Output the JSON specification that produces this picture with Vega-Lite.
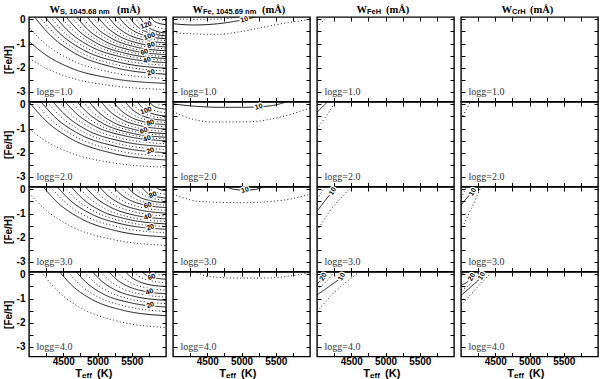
{
"$schema":"https://vega.github.io/schema/vega-lite/v6.json",
"background":"white",
"padding":{"left":2,"top":4,"right":2,"bottom":1},
"datasets":{
"lines":[
{"p":"11","lvl":5,"teff":4000,"feh":-1.6},{"p":"11","lvl":5,"teff":4240,"feh":-2.01},{"p":"11","lvl":5,"teff":4600,"feh":-2.41},{"p":"11","lvl":5,"teff":5200,"feh":-2.74},{"p":"11","lvl":5,"teff":6000,"feh":-2.9},
{"p":"11","lvl":10,"teff":4000,"feh":-0.91},{"p":"11","lvl":10,"teff":4240,"feh":-1.46},{"p":"11","lvl":10,"teff":4600,"feh":-2.0},{"p":"11","lvl":10,"teff":5200,"feh":-2.44},{"p":"11","lvl":10,"teff":6000,"feh":-2.65},
{"p":"11","lvl":15,"teff":4000,"feh":-0.35},{"p":"11","lvl":15,"teff":4240,"feh":-1.02},{"p":"11","lvl":15,"teff":4600,"feh":-1.66},{"p":"11","lvl":15,"teff":5200,"feh":-2.19},{"p":"11","lvl":15,"teff":6000,"feh":-2.45},
{"p":"11","lvl":20,"teff":4080,"feh":0.1},{"p":"11","lvl":20,"teff":4310,"feh":-0.65},{"p":"11","lvl":20,"teff":4656,"feh":-1.38},{"p":"11","lvl":20,"teff":5232,"feh":-1.98},{"p":"11","lvl":20,"teff":6000,"feh":-2.27},
{"p":"11","lvl":25,"teff":4157,"feh":0.1},{"p":"11","lvl":25,"teff":4378,"feh":-0.61},{"p":"11","lvl":25,"teff":4710,"feh":-1.3},{"p":"11","lvl":25,"teff":5263,"feh":-1.87},{"p":"11","lvl":25,"teff":6000,"feh":-2.14},
{"p":"11","lvl":30,"teff":4234,"feh":0.1},{"p":"11","lvl":30,"teff":4446,"feh":-0.57},{"p":"11","lvl":30,"teff":4764,"feh":-1.22},{"p":"11","lvl":30,"teff":5294,"feh":-1.76},{"p":"11","lvl":30,"teff":6000,"feh":-2.02},
{"p":"11","lvl":35,"teff":4311,"feh":0.1},{"p":"11","lvl":35,"teff":4514,"feh":-0.54},{"p":"11","lvl":35,"teff":4818,"feh":-1.15},{"p":"11","lvl":35,"teff":5324,"feh":-1.66},{"p":"11","lvl":35,"teff":6000,"feh":-1.9},
{"p":"11","lvl":40,"teff":4388,"feh":0.1},{"p":"11","lvl":40,"teff":4581,"feh":-0.5},{"p":"11","lvl":40,"teff":4872,"feh":-1.08},{"p":"11","lvl":40,"teff":5355,"feh":-1.56},{"p":"11","lvl":40,"teff":6000,"feh":-1.79},
{"p":"11","lvl":45,"teff":4465,"feh":0.1},{"p":"11","lvl":45,"teff":4649,"feh":-0.47},{"p":"11","lvl":45,"teff":4926,"feh":-1.02},{"p":"11","lvl":45,"teff":5386,"feh":-1.48},{"p":"11","lvl":45,"teff":6000,"feh":-1.7},
{"p":"11","lvl":50,"teff":4542,"feh":0.1},{"p":"11","lvl":50,"teff":4717,"feh":-0.45},{"p":"11","lvl":50,"teff":4979,"feh":-0.97},{"p":"11","lvl":50,"teff":5417,"feh":-1.41},{"p":"11","lvl":50,"teff":6000,"feh":-1.62},
{"p":"11","lvl":55,"teff":4619,"feh":0.1},{"p":"11","lvl":55,"teff":4785,"feh":-0.42},{"p":"11","lvl":55,"teff":5033,"feh":-0.92},{"p":"11","lvl":55,"teff":5448,"feh":-1.34},{"p":"11","lvl":55,"teff":6000,"feh":-1.54},
{"p":"11","lvl":60,"teff":4696,"feh":0.1},{"p":"11","lvl":60,"teff":4852,"feh":-0.4},{"p":"11","lvl":60,"teff":5087,"feh":-0.87},{"p":"11","lvl":60,"teff":5478,"feh":-1.27},{"p":"11","lvl":60,"teff":6000,"feh":-1.46},
{"p":"11","lvl":65,"teff":4773,"feh":0.1},{"p":"11","lvl":65,"teff":4920,"feh":-0.37},{"p":"11","lvl":65,"teff":5141,"feh":-0.82},{"p":"11","lvl":65,"teff":5509,"feh":-1.2},{"p":"11","lvl":65,"teff":6000,"feh":-1.38},
{"p":"11","lvl":70,"teff":4850,"feh":0.1},{"p":"11","lvl":70,"teff":4988,"feh":-0.35},{"p":"11","lvl":70,"teff":5195,"feh":-0.77},{"p":"11","lvl":70,"teff":5540,"feh":-1.13},{"p":"11","lvl":70,"teff":6000,"feh":-1.3},
{"p":"11","lvl":75,"teff":4927,"feh":0.1},{"p":"11","lvl":75,"teff":5056,"feh":-0.32},{"p":"11","lvl":75,"teff":5249,"feh":-0.72},{"p":"11","lvl":75,"teff":5571,"feh":-1.06},{"p":"11","lvl":75,"teff":6000,"feh":-1.22},
{"p":"11","lvl":80,"teff":5004,"feh":0.1},{"p":"11","lvl":80,"teff":5124,"feh":-0.29},{"p":"11","lvl":80,"teff":5303,"feh":-0.67},{"p":"11","lvl":80,"teff":5602,"feh":-0.99},{"p":"11","lvl":80,"teff":6000,"feh":-1.14},
{"p":"11","lvl":85,"teff":5081,"feh":0.1},{"p":"11","lvl":85,"teff":5191,"feh":-0.27},{"p":"11","lvl":85,"teff":5357,"feh":-0.62},{"p":"11","lvl":85,"teff":5632,"feh":-0.91},{"p":"11","lvl":85,"teff":6000,"feh":-1.05},
{"p":"11","lvl":90,"teff":5158,"feh":0.1},{"p":"11","lvl":90,"teff":5259,"feh":-0.24},{"p":"11","lvl":90,"teff":5411,"feh":-0.57},{"p":"11","lvl":90,"teff":5663,"feh":-0.84},{"p":"11","lvl":90,"teff":6000,"feh":-0.97},
{"p":"11","lvl":95,"teff":5235,"feh":0.1},{"p":"11","lvl":95,"teff":5327,"feh":-0.21},{"p":"11","lvl":95,"teff":5465,"feh":-0.51},{"p":"11","lvl":95,"teff":5694,"feh":-0.76},{"p":"11","lvl":95,"teff":6000,"feh":-0.88},
{"p":"11","lvl":100,"teff":5312,"feh":0.1},{"p":"11","lvl":100,"teff":5395,"feh":-0.19},{"p":"11","lvl":100,"teff":5518,"feh":-0.46},{"p":"11","lvl":100,"teff":5725,"feh":-0.69},{"p":"11","lvl":100,"teff":6000,"feh":-0.8},
{"p":"11","lvl":105,"teff":5389,"feh":0.1},{"p":"11","lvl":105,"teff":5462,"feh":-0.17},{"p":"11","lvl":105,"teff":5572,"feh":-0.42},{"p":"11","lvl":105,"teff":5756,"feh":-0.64},{"p":"11","lvl":105,"teff":6000,"feh":-0.74},
{"p":"11","lvl":110,"teff":5466,"feh":0.1},{"p":"11","lvl":110,"teff":5530,"feh":-0.15},{"p":"11","lvl":110,"teff":5626,"feh":-0.39},{"p":"11","lvl":110,"teff":5786,"feh":-0.58},{"p":"11","lvl":110,"teff":6000,"feh":-0.68},
{"p":"11","lvl":115,"teff":5543,"feh":0.1},{"p":"11","lvl":115,"teff":5598,"feh":-0.13},{"p":"11","lvl":115,"teff":5680,"feh":-0.35},{"p":"11","lvl":115,"teff":5817,"feh":-0.53},{"p":"11","lvl":115,"teff":6000,"feh":-0.62},
{"p":"11","lvl":120,"teff":5620,"feh":0.1},{"p":"11","lvl":120,"teff":5666,"feh":-0.11},{"p":"11","lvl":120,"teff":5734,"feh":-0.31},{"p":"11","lvl":120,"teff":5848,"feh":-0.48},{"p":"11","lvl":120,"teff":6000,"feh":-0.56},
{"p":"11","lvl":125,"teff":5697,"feh":0.1},{"p":"11","lvl":125,"teff":5788,"feh":-0.21},{"p":"11","lvl":125,"teff":6000,"feh":-0.4},
{"p":"11","lvl":130,"teff":5774,"feh":0.1},{"p":"11","lvl":130,"teff":5842,"feh":-0.1},{"p":"11","lvl":130,"teff":6000,"feh":-0.22},
{"p":"11","lvl":135,"teff":5850,"feh":0.1},{"p":"11","lvl":135,"teff":5895,"feh":0.01},{"p":"11","lvl":135,"teff":6000,"feh":-0.05},

{"p":"21","lvl":5,"teff":4000,"feh":-1.0},{"p":"21","lvl":5,"teff":4240,"feh":-1.51},{"p":"21","lvl":5,"teff":4600,"feh":-2.0},{"p":"21","lvl":5,"teff":5200,"feh":-2.41},{"p":"21","lvl":5,"teff":6000,"feh":-2.6},
{"p":"21","lvl":10,"teff":4000,"feh":0.1},{"p":"21","lvl":10,"teff":4240,"feh":-0.66},{"p":"21","lvl":10,"teff":4600,"feh":-1.4},{"p":"21","lvl":10,"teff":5200,"feh":-2.01},{"p":"21","lvl":10,"teff":6000,"feh":-2.3},
{"p":"21","lvl":15,"teff":4088,"feh":0.1},{"p":"21","lvl":15,"teff":4317,"feh":-0.62},{"p":"21","lvl":15,"teff":4662,"feh":-1.31},{"p":"21","lvl":15,"teff":5235,"feh":-1.88},{"p":"21","lvl":15,"teff":6000,"feh":-2.15},
{"p":"21","lvl":20,"teff":4176,"feh":0.1},{"p":"21","lvl":20,"teff":4395,"feh":-0.57},{"p":"21","lvl":20,"teff":4723,"feh":-1.21},{"p":"21","lvl":20,"teff":5270,"feh":-1.74},{"p":"21","lvl":20,"teff":6000,"feh":-2.0},
{"p":"21","lvl":25,"teff":4264,"feh":0.1},{"p":"21","lvl":25,"teff":4472,"feh":-0.53},{"p":"21","lvl":25,"teff":4785,"feh":-1.13},{"p":"21","lvl":25,"teff":5306,"feh":-1.63},{"p":"21","lvl":25,"teff":6000,"feh":-1.87},
{"p":"21","lvl":30,"teff":4352,"feh":0.1},{"p":"21","lvl":30,"teff":4550,"feh":-0.49},{"p":"21","lvl":30,"teff":4846,"feh":-1.06},{"p":"21","lvl":30,"teff":5341,"feh":-1.52},{"p":"21","lvl":30,"teff":6000,"feh":-1.75},
{"p":"21","lvl":35,"teff":4440,"feh":0.1},{"p":"21","lvl":35,"teff":4627,"feh":-0.45},{"p":"21","lvl":35,"teff":4908,"feh":-0.98},{"p":"21","lvl":35,"teff":5376,"feh":-1.42},{"p":"21","lvl":35,"teff":6000,"feh":-1.63},
{"p":"21","lvl":40,"teff":4528,"feh":0.1},{"p":"21","lvl":40,"teff":4705,"feh":-0.41},{"p":"21","lvl":40,"teff":4970,"feh":-0.91},{"p":"21","lvl":40,"teff":5411,"feh":-1.31},{"p":"21","lvl":40,"teff":6000,"feh":-1.51},
{"p":"21","lvl":45,"teff":4616,"feh":0.1},{"p":"21","lvl":45,"teff":4782,"feh":-0.39},{"p":"21","lvl":45,"teff":5031,"feh":-0.86},{"p":"21","lvl":45,"teff":5446,"feh":-1.24},{"p":"21","lvl":45,"teff":6000,"feh":-1.43},
{"p":"21","lvl":50,"teff":4704,"feh":0.1},{"p":"21","lvl":50,"teff":4860,"feh":-0.36},{"p":"21","lvl":50,"teff":5093,"feh":-0.81},{"p":"21","lvl":50,"teff":5482,"feh":-1.18},{"p":"21","lvl":50,"teff":6000,"feh":-1.36},
{"p":"21","lvl":55,"teff":4792,"feh":0.1},{"p":"21","lvl":55,"teff":4937,"feh":-0.34},{"p":"21","lvl":55,"teff":5154,"feh":-0.76},{"p":"21","lvl":55,"teff":5517,"feh":-1.11},{"p":"21","lvl":55,"teff":6000,"feh":-1.28},
{"p":"21","lvl":60,"teff":4880,"feh":0.1},{"p":"21","lvl":60,"teff":5014,"feh":-0.32},{"p":"21","lvl":60,"teff":5216,"feh":-0.72},{"p":"21","lvl":60,"teff":5552,"feh":-1.05},{"p":"21","lvl":60,"teff":6000,"feh":-1.21},
{"p":"21","lvl":65,"teff":4968,"feh":0.1},{"p":"21","lvl":65,"teff":5092,"feh":-0.29},{"p":"21","lvl":65,"teff":5278,"feh":-0.66},{"p":"21","lvl":65,"teff":5587,"feh":-0.97},{"p":"21","lvl":65,"teff":6000,"feh":-1.12},
{"p":"21","lvl":70,"teff":5056,"feh":0.1},{"p":"21","lvl":70,"teff":5169,"feh":-0.26},{"p":"21","lvl":70,"teff":5339,"feh":-0.6},{"p":"21","lvl":70,"teff":5622,"feh":-0.88},{"p":"21","lvl":70,"teff":6000,"feh":-1.02},
{"p":"21","lvl":75,"teff":5144,"feh":0.1},{"p":"21","lvl":75,"teff":5247,"feh":-0.23},{"p":"21","lvl":75,"teff":5401,"feh":-0.54},{"p":"21","lvl":75,"teff":5658,"feh":-0.8},{"p":"21","lvl":75,"teff":6000,"feh":-0.93},
{"p":"21","lvl":80,"teff":5232,"feh":0.1},{"p":"21","lvl":80,"teff":5324,"feh":-0.2},{"p":"21","lvl":80,"teff":5462,"feh":-0.49},{"p":"21","lvl":80,"teff":5693,"feh":-0.73},{"p":"21","lvl":80,"teff":6000,"feh":-0.84},
{"p":"21","lvl":85,"teff":5320,"feh":0.1},{"p":"21","lvl":85,"teff":5402,"feh":-0.17},{"p":"21","lvl":85,"teff":5524,"feh":-0.43},{"p":"21","lvl":85,"teff":5728,"feh":-0.65},{"p":"21","lvl":85,"teff":6000,"feh":-0.75},
{"p":"21","lvl":90,"teff":5408,"feh":0.1},{"p":"21","lvl":90,"teff":5479,"feh":-0.14},{"p":"21","lvl":90,"teff":5586,"feh":-0.37},{"p":"21","lvl":90,"teff":5763,"feh":-0.57},{"p":"21","lvl":90,"teff":6000,"feh":-0.66},
{"p":"21","lvl":95,"teff":5496,"feh":0.1},{"p":"21","lvl":95,"teff":5556,"feh":-0.11},{"p":"21","lvl":95,"teff":5647,"feh":-0.32},{"p":"21","lvl":95,"teff":5798,"feh":-0.49},{"p":"21","lvl":95,"teff":6000,"feh":-0.57},
{"p":"21","lvl":100,"teff":5584,"feh":0.1},{"p":"21","lvl":100,"teff":5634,"feh":-0.08},{"p":"21","lvl":100,"teff":5709,"feh":-0.26},{"p":"21","lvl":100,"teff":5834,"feh":-0.41},{"p":"21","lvl":100,"teff":6000,"feh":-0.48},
{"p":"21","lvl":105,"teff":5672,"feh":0.1},{"p":"21","lvl":105,"teff":5770,"feh":-0.18},{"p":"21","lvl":105,"teff":6000,"feh":-0.35},
{"p":"21","lvl":110,"teff":5760,"feh":0.1},{"p":"21","lvl":110,"teff":5832,"feh":-0.09},{"p":"21","lvl":110,"teff":6000,"feh":-0.2},
{"p":"21","lvl":115,"teff":5850,"feh":0.1},{"p":"21","lvl":115,"teff":5895,"feh":0.01},{"p":"21","lvl":115,"teff":6000,"feh":-0.05},

{"p":"31","lvl":5,"teff":4000,"feh":-0.15},{"p":"31","lvl":5,"teff":4240,"feh":-0.84},{"p":"31","lvl":5,"teff":4600,"feh":-1.51},{"p":"31","lvl":5,"teff":5200,"feh":-2.06},{"p":"31","lvl":5,"teff":6000,"feh":-2.32},
{"p":"31","lvl":10,"teff":4208,"feh":0.1},{"p":"31","lvl":10,"teff":4423,"feh":-0.56},{"p":"31","lvl":10,"teff":4746,"feh":-1.19},{"p":"31","lvl":10,"teff":5283,"feh":-1.72},{"p":"31","lvl":10,"teff":6000,"feh":-1.97},
{"p":"31","lvl":15,"teff":4311,"feh":0.1},{"p":"31","lvl":15,"teff":4514,"feh":-0.5},{"p":"31","lvl":15,"teff":4818,"feh":-1.09},{"p":"31","lvl":15,"teff":5324,"feh":-1.57},{"p":"31","lvl":15,"teff":6000,"feh":-1.8},
{"p":"31","lvl":20,"teff":4414,"feh":0.1},{"p":"31","lvl":20,"teff":4604,"feh":-0.46},{"p":"31","lvl":20,"teff":4890,"feh":-0.99},{"p":"31","lvl":20,"teff":5366,"feh":-1.44},{"p":"31","lvl":20,"teff":6000,"feh":-1.65},
{"p":"31","lvl":25,"teff":4516,"feh":0.1},{"p":"31","lvl":25,"teff":4694,"feh":-0.42},{"p":"31","lvl":25,"teff":4961,"feh":-0.92},{"p":"31","lvl":25,"teff":5406,"feh":-1.34},{"p":"31","lvl":25,"teff":6000,"feh":-1.54},
{"p":"31","lvl":30,"teff":4619,"feh":0.1},{"p":"31","lvl":30,"teff":4785,"feh":-0.39},{"p":"31","lvl":30,"teff":5033,"feh":-0.86},{"p":"31","lvl":30,"teff":5448,"feh":-1.24},{"p":"31","lvl":30,"teff":6000,"feh":-1.43},
{"p":"31","lvl":35,"teff":4721,"feh":0.1},{"p":"31","lvl":35,"teff":4874,"feh":-0.35},{"p":"31","lvl":35,"teff":5105,"feh":-0.79},{"p":"31","lvl":35,"teff":5488,"feh":-1.16},{"p":"31","lvl":35,"teff":6000,"feh":-1.33},
{"p":"31","lvl":40,"teff":4824,"feh":0.1},{"p":"31","lvl":40,"teff":4965,"feh":-0.32},{"p":"31","lvl":40,"teff":5177,"feh":-0.72},{"p":"31","lvl":40,"teff":5530,"feh":-1.06},{"p":"31","lvl":40,"teff":6000,"feh":-1.22},
{"p":"31","lvl":45,"teff":4926,"feh":0.1},{"p":"31","lvl":45,"teff":5055,"feh":-0.28},{"p":"31","lvl":45,"teff":5248,"feh":-0.65},{"p":"31","lvl":45,"teff":5570,"feh":-0.95},{"p":"31","lvl":45,"teff":6000,"feh":-1.1},
{"p":"31","lvl":50,"teff":5029,"feh":0.1},{"p":"31","lvl":50,"teff":5146,"feh":-0.24},{"p":"31","lvl":50,"teff":5320,"feh":-0.57},{"p":"31","lvl":50,"teff":5612,"feh":-0.85},{"p":"31","lvl":50,"teff":6000,"feh":-0.98},
{"p":"31","lvl":55,"teff":5132,"feh":0.1},{"p":"31","lvl":55,"teff":5236,"feh":-0.21},{"p":"31","lvl":55,"teff":5392,"feh":-0.51},{"p":"31","lvl":55,"teff":5653,"feh":-0.75},{"p":"31","lvl":55,"teff":6000,"feh":-0.87},
{"p":"31","lvl":60,"teff":5234,"feh":0.1},{"p":"31","lvl":60,"teff":5326,"feh":-0.17},{"p":"31","lvl":60,"teff":5464,"feh":-0.43},{"p":"31","lvl":60,"teff":5694,"feh":-0.65},{"p":"31","lvl":60,"teff":6000,"feh":-0.75},
{"p":"31","lvl":65,"teff":5337,"feh":0.1},{"p":"31","lvl":65,"teff":5417,"feh":-0.14},{"p":"31","lvl":65,"teff":5536,"feh":-0.37},{"p":"31","lvl":65,"teff":5735,"feh":-0.56},{"p":"31","lvl":65,"teff":6000,"feh":-0.65},
{"p":"31","lvl":70,"teff":5440,"feh":0.1},{"p":"31","lvl":70,"teff":5507,"feh":-0.11},{"p":"31","lvl":70,"teff":5608,"feh":-0.31},{"p":"31","lvl":70,"teff":5776,"feh":-0.47},{"p":"31","lvl":70,"teff":6000,"feh":-0.55},
{"p":"31","lvl":75,"teff":5542,"feh":0.1},{"p":"31","lvl":75,"teff":5597,"feh":-0.07},{"p":"31","lvl":75,"teff":5679,"feh":-0.24},{"p":"31","lvl":75,"teff":5817,"feh":-0.38},{"p":"31","lvl":75,"teff":6000,"feh":-0.45},
{"p":"31","lvl":80,"teff":5645,"feh":0.1},{"p":"31","lvl":80,"teff":5752,"feh":-0.19},{"p":"31","lvl":80,"teff":6000,"feh":-0.36},
{"p":"31","lvl":85,"teff":5747,"feh":0.1},{"p":"31","lvl":85,"teff":5823,"feh":-0.09},{"p":"31","lvl":85,"teff":6000,"feh":-0.2},
{"p":"31","lvl":90,"teff":5850,"feh":0.1},{"p":"31","lvl":90,"teff":5895,"feh":0.01},{"p":"31","lvl":90,"teff":6000,"feh":-0.05},

{"p":"41","lvl":5,"teff":4180,"feh":0.1},{"p":"41","lvl":5,"teff":4398,"feh":-0.63},{"p":"41","lvl":5,"teff":4726,"feh":-1.34},{"p":"41","lvl":5,"teff":5272,"feh":-1.92},{"p":"41","lvl":5,"teff":6000,"feh":-2.2},
{"p":"41","lvl":10,"teff":4450,"feh":0.1},{"p":"41","lvl":10,"teff":4636,"feh":-0.48},{"p":"41","lvl":10,"teff":4915,"feh":-1.03},{"p":"41","lvl":10,"teff":5380,"feh":-1.49},{"p":"41","lvl":10,"teff":6000,"feh":-1.71},
{"p":"41","lvl":15,"teff":4570,"feh":0.1},{"p":"41","lvl":15,"teff":4742,"feh":-0.42},{"p":"41","lvl":15,"teff":4999,"feh":-0.92},{"p":"41","lvl":15,"teff":5428,"feh":-1.33},{"p":"41","lvl":15,"teff":6000,"feh":-1.53},
{"p":"41","lvl":20,"teff":4690,"feh":0.1},{"p":"41","lvl":20,"teff":4847,"feh":-0.36},{"p":"41","lvl":20,"teff":5083,"feh":-0.81},{"p":"41","lvl":20,"teff":5476,"feh":-1.17},{"p":"41","lvl":20,"teff":6000,"feh":-1.35},
{"p":"41","lvl":25,"teff":4810,"feh":0.1},{"p":"41","lvl":25,"teff":4953,"feh":-0.32},{"p":"41","lvl":25,"teff":5167,"feh":-0.72},{"p":"41","lvl":25,"teff":5524,"feh":-1.05},{"p":"41","lvl":25,"teff":6000,"feh":-1.21},
{"p":"41","lvl":30,"teff":4930,"feh":0.1},{"p":"41","lvl":30,"teff":5058,"feh":-0.27},{"p":"41","lvl":30,"teff":5251,"feh":-0.63},{"p":"41","lvl":30,"teff":5572,"feh":-0.93},{"p":"41","lvl":30,"teff":6000,"feh":-1.07},
{"p":"41","lvl":35,"teff":5050,"feh":0.1},{"p":"41","lvl":35,"teff":5164,"feh":-0.23},{"p":"41","lvl":35,"teff":5335,"feh":-0.55},{"p":"41","lvl":35,"teff":5620,"feh":-0.81},{"p":"41","lvl":35,"teff":6000,"feh":-0.94},
{"p":"41","lvl":40,"teff":5170,"feh":0.1},{"p":"41","lvl":40,"teff":5270,"feh":-0.19},{"p":"41","lvl":40,"teff":5419,"feh":-0.46},{"p":"41","lvl":40,"teff":5668,"feh":-0.69},{"p":"41","lvl":40,"teff":6000,"feh":-0.8},
{"p":"41","lvl":45,"teff":5290,"feh":0.1},{"p":"41","lvl":45,"teff":5375,"feh":-0.14},{"p":"41","lvl":45,"teff":5503,"feh":-0.37},{"p":"41","lvl":45,"teff":5716,"feh":-0.56},{"p":"41","lvl":45,"teff":6000,"feh":-0.65},
{"p":"41","lvl":50,"teff":5410,"feh":0.1},{"p":"41","lvl":50,"teff":5481,"feh":-0.09},{"p":"41","lvl":50,"teff":5587,"feh":-0.27},{"p":"41","lvl":50,"teff":5764,"feh":-0.43},{"p":"41","lvl":50,"teff":6000,"feh":-0.5},
{"p":"41","lvl":55,"teff":5530,"feh":0.1},{"p":"41","lvl":55,"teff":5671,"feh":-0.18},{"p":"41","lvl":55,"teff":6000,"feh":-0.35},
{"p":"41","lvl":60,"teff":5650,"feh":0.1},{"p":"41","lvl":60,"teff":5755,"feh":-0.09},{"p":"41","lvl":60,"teff":6000,"feh":-0.2},
{"p":"41","lvl":65,"teff":5800,"feh":0.1},{"p":"41","lvl":65,"teff":5860,"feh":0.01},{"p":"41","lvl":65,"teff":6000,"feh":-0.05},

{"p":"12","lvl":5,"teff":4000,"feh":-0.55},{"p":"12","lvl":5,"teff":4300,"feh":-0.6},{"p":"12","lvl":5,"teff":4650,"feh":-0.62},{"p":"12","lvl":5,"teff":5000,"feh":-0.5},{"p":"12","lvl":5,"teff":5500,"feh":-0.22},{"p":"12","lvl":5,"teff":6000,"feh":0.0},
{"p":"12","lvl":10,"teff":4000,"feh":-0.18},{"p":"12","lvl":10,"teff":4300,"feh":-0.23},{"p":"12","lvl":10,"teff":4650,"feh":-0.18},{"p":"12","lvl":10,"teff":4900,"feh":-0.08},{"p":"12","lvl":10,"teff":5100,"feh":0.02},{"p":"12","lvl":10,"teff":5200,"feh":0.1},
{"p":"12","lvl":15,"teff":4000,"feh":0.02},{"p":"12","lvl":15,"teff":4400,"feh":0.0},{"p":"12","lvl":15,"teff":4800,"feh":0.04},{"p":"12","lvl":15,"teff":4950,"feh":0.1},
{"p":"22","lvl":5,"teff":4000,"feh":-0.3},{"p":"22","lvl":5,"teff":4300,"feh":-0.62},{"p":"22","lvl":5,"teff":4600,"feh":-0.73},{"p":"22","lvl":5,"teff":5100,"feh":-0.72},{"p":"22","lvl":5,"teff":5600,"feh":-0.5},{"p":"22","lvl":5,"teff":6000,"feh":-0.15},
{"p":"22","lvl":10,"teff":4000,"feh":0.02},{"p":"22","lvl":10,"teff":4300,"feh":-0.07},{"p":"22","lvl":10,"teff":4700,"feh":-0.12},{"p":"22","lvl":10,"teff":5000,"feh":-0.12},{"p":"22","lvl":10,"teff":5250,"feh":-0.1},{"p":"22","lvl":10,"teff":5500,"feh":-0.02},{"p":"22","lvl":10,"teff":5650,"feh":0.1},
{"p":"32","lvl":5,"teff":4000,"feh":-0.2},{"p":"32","lvl":5,"teff":4400,"feh":-0.5},{"p":"32","lvl":5,"teff":5000,"feh":-0.55},{"p":"32","lvl":5,"teff":5600,"feh":-0.45},{"p":"32","lvl":5,"teff":6000,"feh":-0.2},
{"p":"32","lvl":10,"teff":4780,"feh":0.1},{"p":"32","lvl":10,"teff":4900,"feh":0.0},{"p":"32","lvl":10,"teff":5050,"feh":-0.03},{"p":"32","lvl":10,"teff":5200,"feh":0.0},{"p":"32","lvl":10,"teff":5320,"feh":0.1},
{"p":"42","lvl":5,"teff":4350,"feh":0.1},{"p":"42","lvl":5,"teff":4500,"feh":-0.08},{"p":"42","lvl":5,"teff":4900,"feh":-0.15},{"p":"42","lvl":5,"teff":5350,"feh":-0.15},{"p":"42","lvl":5,"teff":5750,"feh":-0.05},{"p":"42","lvl":5,"teff":6000,"feh":0.07},

{"p":"13","lvl":5,"teff":4000,"feh":-0.3},{"p":"13","lvl":5,"teff":4080,"feh":-0.08},{"p":"13","lvl":5,"teff":4140,"feh":0.1},
{"p":"23","lvl":10,"teff":4000,"feh":-0.33},{"p":"23","lvl":10,"teff":4150,"feh":0.1},
{"p":"23","lvl":5,"teff":4000,"feh":-1.02},{"p":"23","lvl":5,"teff":4130,"feh":-0.5},{"p":"23","lvl":5,"teff":4270,"feh":0.1},
{"p":"33","lvl":15,"teff":4000,"feh":-0.4},{"p":"33","lvl":15,"teff":4120,"feh":0.1},
{"p":"33","lvl":10,"teff":4000,"feh":-0.9},{"p":"33","lvl":10,"teff":4150,"feh":-0.35},{"p":"33","lvl":10,"teff":4280,"feh":0.1},
{"p":"33","lvl":5,"teff":4000,"feh":-1.72},{"p":"33","lvl":5,"teff":4200,"feh":-0.85},{"p":"33","lvl":5,"teff":4400,"feh":-0.2},{"p":"33","lvl":5,"teff":4500,"feh":0.1},
{"p":"43","lvl":25,"teff":4000,"feh":-0.05},{"p":"43","lvl":25,"teff":4040,"feh":0.1},
{"p":"43","lvl":20,"teff":4000,"feh":-0.4},{"p":"43","lvl":20,"teff":4092,"feh":-0.1},{"p":"43","lvl":20,"teff":4130,"feh":0.1},
{"p":"43","lvl":15,"teff":4000,"feh":-0.62},{"p":"43","lvl":15,"teff":4150,"feh":-0.25},{"p":"43","lvl":15,"teff":4250,"feh":0.1},
{"p":"43","lvl":10,"teff":4000,"feh":-0.85},{"p":"43","lvl":10,"teff":4200,"feh":-0.45},{"p":"43","lvl":10,"teff":4360,"feh":-0.1},{"p":"43","lvl":10,"teff":4420,"feh":0.1},
{"p":"43","lvl":5,"teff":4000,"feh":-1.55},{"p":"43","lvl":5,"teff":4250,"feh":-0.75},{"p":"43","lvl":5,"teff":4500,"feh":-0.15},{"p":"43","lvl":5,"teff":4620,"feh":0.1},

{"p":"24","lvl":5,"teff":4000,"feh":-0.6},{"p":"24","lvl":5,"teff":4140,"feh":0.1},
{"p":"34","lvl":15,"teff":4000,"feh":-0.35},{"p":"34","lvl":15,"teff":4080,"feh":0.1},
{"p":"34","lvl":10,"teff":4000,"feh":-0.65},{"p":"34","lvl":10,"teff":4120,"feh":-0.25},{"p":"34","lvl":10,"teff":4171,"feh":-0.11},{"p":"34","lvl":10,"teff":4210,"feh":0.1},
{"p":"34","lvl":5,"teff":4000,"feh":-1.68},{"p":"34","lvl":5,"teff":4150,"feh":-0.8},{"p":"34","lvl":5,"teff":4290,"feh":0.1},
{"p":"44","lvl":25,"teff":4000,"feh":-0.1},{"p":"44","lvl":25,"teff":4040,"feh":0.1},
{"p":"44","lvl":20,"teff":4000,"feh":-0.45},{"p":"44","lvl":20,"teff":4156,"feh":-0.11},{"p":"44","lvl":20,"teff":4200,"feh":0.1},
{"p":"44","lvl":15,"teff":4000,"feh":-0.65},{"p":"44","lvl":15,"teff":4150,"feh":-0.35},{"p":"44","lvl":15,"teff":4260,"feh":0.1},
{"p":"44","lvl":10,"teff":4000,"feh":-0.87},{"p":"44","lvl":10,"teff":4150,"feh":-0.5},{"p":"44","lvl":10,"teff":4302,"feh":-0.07},{"p":"44","lvl":10,"teff":4340,"feh":0.1},
{"p":"44","lvl":5,"teff":4000,"feh":-1.3},{"p":"44","lvl":5,"teff":4200,"feh":-0.65},{"p":"44","lvl":5,"teff":4400,"feh":-0.05},{"p":"44","lvl":5,"teff":4450,"feh":0.1}
],
"labels":[
{"p":"11","lvl":20,"teff":5782,"feh":-2.2},{"p":"11","lvl":40,"teff":5724,"feh":-1.69},{"p":"11","lvl":60,"teff":5685,"feh":-1.35},{"p":"11","lvl":80,"teff":5782,"feh":-1.06},{"p":"11","lvl":100,"teff":5758,"feh":-0.7},{"p":"11","lvl":120,"teff":5709,"feh":-0.24},
{"p":"21","lvl":20,"teff":5772,"feh":-1.92},{"p":"21","lvl":40,"teff":5724,"feh":-1.42},{"p":"21","lvl":60,"teff":5675,"feh":-1.09},{"p":"21","lvl":80,"teff":5772,"feh":-0.76},{"p":"21","lvl":100,"teff":5709,"feh":-0.26},
{"p":"31","lvl":20,"teff":5772,"feh":-1.57},{"p":"31","lvl":40,"teff":5734,"feh":-1.13},{"p":"31","lvl":60,"teff":5734,"feh":-0.66},{"p":"31","lvl":80,"teff":5806,"feh":-0.23},
{"p":"41","lvl":20,"teff":5772,"feh":-1.27},{"p":"41","lvl":40,"teff":5760,"feh":-0.72},{"p":"41","lvl":60,"teff":5790,"feh":-0.11},
{"p":"12","lvl":10,"teff":5040,"feh":-0.01},
{"p":"22","lvl":10,"teff":5250,"feh":-0.1},
{"p":"32","lvl":10,"teff":5050,"feh":-0.03},
{"p":"33","lvl":10,"teff":4230,"feh":-0.08},
{"p":"43","lvl":20,"teff":4092,"feh":-0.1},{"p":"43","lvl":10,"teff":4360,"feh":-0.1},
{"p":"34","lvl":10,"teff":4171,"feh":-0.11},
{"p":"44","lvl":20,"teff":4156,"feh":-0.11},{"p":"44","lvl":10,"teff":4302,"feh":-0.07}
]
},
"columns":4,
"spacing":{"row":0,"column":7},
"align":"each",
"bounds":"flush",
"concat":[
{"width":137,"height":84.5,"resolve":{"axis":{"x":"independent","y":"independent"}},"layer":[
 {"data":{"name":"lines"},"transform":[{"filter":"datum.p=='11'"}],"mark":{"type":"line","clip":true},"encoding":{"x":{"field":"teff","type":"quantitative","scale":{"domain":[4000,6000],"nice":false},"axis":{"orient":"bottom","values":[4250,4500,4750,5000,5250,5500,5750],"labels":false,"title":null}},"y":{"field":"feh","type":"quantitative","scale":{"domain":[-3.4,0.1],"nice":false},"axis":{"orient":"left","values":[-3,-2.5,-2,-1.5,-1,-0.5,0],"labelExpr":"datum.value % 1 == 0 ? '' + datum.value : ''","labelPadding":8,"title":"[Fe/H]","titlePadding":3}},"detail":{"field":"lvl","type":"nominal"},"strokeDash":{"condition":{"test":"datum.lvl % 10 == 0","value":[1,0]},"value":[1,2.4]}}},
 {"data":{"name":"labels"},"transform":[{"filter":"datum.p=='11'"}],"mark":{"type":"text","style":"lab","color":"white","stroke":"white","strokeWidth":2.5,"angle":340},"encoding":{"x":{"field":"teff","type":"quantitative","scale":{"domain":[4000,6000],"nice":false},"axis":null},"y":{"field":"feh","type":"quantitative","scale":{"domain":[-3.4,0.1],"nice":false},"axis":null},"text":{"field":"lvl"}}},
 {"data":{"name":"labels"},"transform":[{"filter":"datum.p=='11'"}],"mark":{"type":"text","style":"lab","color":"black","angle":340},"encoding":{"x":{"field":"teff","type":"quantitative","scale":{"domain":[4000,6000],"nice":false},"axis":null},"y":{"field":"feh","type":"quantitative","scale":{"domain":[-3.4,0.1],"nice":false},"axis":null},"text":{"field":"lvl"}}},
 {"data":{"values":[{}]},"mark":{"type":"text","style":"logg","color":"#333","text":"logg=1.0"},"encoding":{"x":{"datum":4110,"type":"quantitative","scale":{"domain":[4000,6000],"nice":false},"axis":{"orient":"top","values":[4250,4500,4750,5000,5250,5500,5750],"labels":false,"title":null}},"y":{"datum":-3.12,"type":"quantitative","scale":{"domain":[-3.4,0.1],"nice":false},"axis":{"orient":"right","values":[-3,-2.5,-2,-1.5,-1,-0.5,0],"labels":false,"title":null}}}},
 {"data":{"values":[{}]},"mark":{"type":"text","style":"big","align":"right","text":"W"},"encoding":{"x":{"datum":4453,"type":"quantitative","scale":{"domain":[4000,6000],"nice":false},"axis":null},"y":{"datum":0.267,"type":"quantitative","scale":{"domain":[-3.4,0.1],"nice":false},"axis":null}}},
 {"data":{"values":[{}]},"mark":{"type":"text","style":"sub","align":"left","text":"S, 1045.68 nm"},"encoding":{"x":{"datum":4453,"type":"quantitative","scale":{"domain":[4000,6000],"nice":false},"axis":null},"y":{"datum":0.225,"type":"quantitative","scale":{"domain":[-3.4,0.1],"nice":false},"axis":null}}},
 {"data":{"values":[{}]},"mark":{"type":"text","style":"big","align":"left","text":"(mÅ)"},"encoding":{"x":{"datum":5285,"type":"quantitative","scale":{"domain":[4000,6000],"nice":false},"axis":null},"y":{"datum":0.267,"type":"quantitative","scale":{"domain":[-3.4,0.1],"nice":false},"axis":null}}}
]},
{"width":137,"height":84.5,"resolve":{"axis":{"x":"independent","y":"independent"}},"layer":[
 {"data":{"name":"lines"},"transform":[{"filter":"datum.p=='12'"}],"mark":{"type":"line","clip":true},"encoding":{"x":{"field":"teff","type":"quantitative","scale":{"domain":[4000,6000],"nice":false},"axis":{"orient":"bottom","values":[4250,4500,4750,5000,5250,5500,5750],"labels":false,"title":null}},"y":{"field":"feh","type":"quantitative","scale":{"domain":[-3.4,0.1],"nice":false},"axis":{"orient":"left","values":[-3,-2.5,-2,-1.5,-1,-0.5,0],"labels":false,"title":null}},"detail":{"field":"lvl","type":"nominal"},"strokeDash":{"condition":{"test":"datum.lvl % 10 == 0","value":[1,0]},"value":[1,2.4]}}},
 {"data":{"name":"labels"},"transform":[{"filter":"datum.p=='12'"}],"mark":{"type":"text","style":"lab","color":"white","stroke":"white","strokeWidth":2.5,"angle":345},"encoding":{"x":{"field":"teff","type":"quantitative","scale":{"domain":[4000,6000],"nice":false},"axis":null},"y":{"field":"feh","type":"quantitative","scale":{"domain":[-3.4,0.1],"nice":false},"axis":null},"text":{"field":"lvl"}}},
 {"data":{"name":"labels"},"transform":[{"filter":"datum.p=='12'"}],"mark":{"type":"text","style":"lab","color":"black","angle":345},"encoding":{"x":{"field":"teff","type":"quantitative","scale":{"domain":[4000,6000],"nice":false},"axis":null},"y":{"field":"feh","type":"quantitative","scale":{"domain":[-3.4,0.1],"nice":false},"axis":null},"text":{"field":"lvl"}}},
 {"data":{"values":[{}]},"mark":{"type":"text","style":"logg","color":"#333","text":"logg=1.0"},"encoding":{"x":{"datum":4110,"type":"quantitative","scale":{"domain":[4000,6000],"nice":false},"axis":{"orient":"top","values":[4250,4500,4750,5000,5250,5500,5750],"labels":false,"title":null}},"y":{"datum":-3.12,"type":"quantitative","scale":{"domain":[-3.4,0.1],"nice":false},"axis":{"orient":"right","values":[-3,-2.5,-2,-1.5,-1,-0.5,0],"labels":false,"title":null}}}},
 {"data":{"values":[{}]},"mark":{"type":"text","style":"big","align":"right","text":"W"},"encoding":{"x":{"datum":4438,"type":"quantitative","scale":{"domain":[4000,6000],"nice":false},"axis":null},"y":{"datum":0.267,"type":"quantitative","scale":{"domain":[-3.4,0.1],"nice":false},"axis":null}}},
 {"data":{"values":[{}]},"mark":{"type":"text","style":"sub","align":"left","text":"Fe, 1045.69 nm"},"encoding":{"x":{"datum":4438,"type":"quantitative","scale":{"domain":[4000,6000],"nice":false},"axis":null},"y":{"datum":0.225,"type":"quantitative","scale":{"domain":[-3.4,0.1],"nice":false},"axis":null}}},
 {"data":{"values":[{}]},"mark":{"type":"text","style":"big","align":"left","text":"(mÅ)"},"encoding":{"x":{"datum":5299,"type":"quantitative","scale":{"domain":[4000,6000],"nice":false},"axis":null},"y":{"datum":0.267,"type":"quantitative","scale":{"domain":[-3.4,0.1],"nice":false},"axis":null}}}
]},
{"width":137,"height":84.5,"resolve":{"axis":{"x":"independent","y":"independent"}},"layer":[
 {"data":{"name":"lines"},"transform":[{"filter":"datum.p=='13'"}],"mark":{"type":"line","clip":true},"encoding":{"x":{"field":"teff","type":"quantitative","scale":{"domain":[4000,6000],"nice":false},"axis":{"orient":"bottom","values":[4250,4500,4750,5000,5250,5500,5750],"labels":false,"title":null}},"y":{"field":"feh","type":"quantitative","scale":{"domain":[-3.4,0.1],"nice":false},"axis":{"orient":"left","values":[-3,-2.5,-2,-1.5,-1,-0.5,0],"labels":false,"title":null}},"detail":{"field":"lvl","type":"nominal"},"strokeDash":{"condition":{"test":"datum.lvl % 10 == 0","value":[1,0]},"value":[1,2.4]}}},
 {"data":{"values":[{}]},"mark":{"type":"text","style":"logg","color":"#333","text":"logg=1.0"},"encoding":{"x":{"datum":4110,"type":"quantitative","scale":{"domain":[4000,6000],"nice":false},"axis":{"orient":"top","values":[4250,4500,4750,5000,5250,5500,5750],"labels":false,"title":null}},"y":{"datum":-3.12,"type":"quantitative","scale":{"domain":[-3.4,0.1],"nice":false},"axis":{"orient":"right","values":[-3,-2.5,-2,-1.5,-1,-0.5,0],"labels":false,"title":null}}}},
 {"data":{"values":[{}]},"mark":{"type":"text","style":"big","align":"right","text":"W"},"encoding":{"x":{"datum":4730,"type":"quantitative","scale":{"domain":[4000,6000],"nice":false},"axis":null},"y":{"datum":0.267,"type":"quantitative","scale":{"domain":[-3.4,0.1],"nice":false},"axis":null}}},
 {"data":{"values":[{}]},"mark":{"type":"text","style":"sub","align":"left","text":"FeH"},"encoding":{"x":{"datum":4730,"type":"quantitative","scale":{"domain":[4000,6000],"nice":false},"axis":null},"y":{"datum":0.225,"type":"quantitative","scale":{"domain":[-3.4,0.1],"nice":false},"axis":null}}},
 {"data":{"values":[{}]},"mark":{"type":"text","style":"big","align":"left","text":"(mÅ)"},"encoding":{"x":{"datum":5007,"type":"quantitative","scale":{"domain":[4000,6000],"nice":false},"axis":null},"y":{"datum":0.267,"type":"quantitative","scale":{"domain":[-3.4,0.1],"nice":false},"axis":null}}}
]},
{"width":137,"height":84.5,"resolve":{"axis":{"x":"independent","y":"independent"}},"layer":[
 {"data":{"name":"lines"},"transform":[{"filter":"datum.p=='14'"}],"mark":{"type":"line","clip":true},"encoding":{"x":{"field":"teff","type":"quantitative","scale":{"domain":[4000,6000],"nice":false},"axis":{"orient":"bottom","values":[4250,4500,4750,5000,5250,5500,5750],"labels":false,"title":null}},"y":{"field":"feh","type":"quantitative","scale":{"domain":[-3.4,0.1],"nice":false},"axis":{"orient":"left","values":[-3,-2.5,-2,-1.5,-1,-0.5,0],"labels":false,"title":null}},"detail":{"field":"lvl","type":"nominal"},"strokeDash":{"condition":{"test":"datum.lvl % 10 == 0","value":[1,0]},"value":[1,2.4]}}},
 {"data":{"values":[{}]},"mark":{"type":"text","style":"logg","color":"#333","text":"logg=1.0"},"encoding":{"x":{"datum":4110,"type":"quantitative","scale":{"domain":[4000,6000],"nice":false},"axis":{"orient":"top","values":[4250,4500,4750,5000,5250,5500,5750],"labels":false,"title":null}},"y":{"datum":-3.12,"type":"quantitative","scale":{"domain":[-3.4,0.1],"nice":false},"axis":{"orient":"right","values":[-3,-2.5,-2,-1.5,-1,-0.5,0],"labels":false,"title":null}}}},
 {"data":{"values":[{}]},"mark":{"type":"text","style":"big","align":"right","text":"W"},"encoding":{"x":{"datum":4745,"type":"quantitative","scale":{"domain":[4000,6000],"nice":false},"axis":null},"y":{"datum":0.267,"type":"quantitative","scale":{"domain":[-3.4,0.1],"nice":false},"axis":null}}},
 {"data":{"values":[{}]},"mark":{"type":"text","style":"sub","align":"left","text":"CrH"},"encoding":{"x":{"datum":4745,"type":"quantitative","scale":{"domain":[4000,6000],"nice":false},"axis":null},"y":{"datum":0.225,"type":"quantitative","scale":{"domain":[-3.4,0.1],"nice":false},"axis":null}}},
 {"data":{"values":[{}]},"mark":{"type":"text","style":"big","align":"left","text":"(mÅ)"},"encoding":{"x":{"datum":5007,"type":"quantitative","scale":{"domain":[4000,6000],"nice":false},"axis":null},"y":{"datum":0.267,"type":"quantitative","scale":{"domain":[-3.4,0.1],"nice":false},"axis":null}}}
]},

{"width":137,"height":84.5,"resolve":{"axis":{"x":"independent","y":"independent"}},"layer":[
 {"data":{"name":"lines"},"transform":[{"filter":"datum.p=='21'"}],"mark":{"type":"line","clip":true},"encoding":{"x":{"field":"teff","type":"quantitative","scale":{"domain":[4000,6000],"nice":false},"axis":{"orient":"bottom","values":[4250,4500,4750,5000,5250,5500,5750],"labels":false,"title":null}},"y":{"field":"feh","type":"quantitative","scale":{"domain":[-3.4,0.1],"nice":false},"axis":{"orient":"left","values":[-3,-2.5,-2,-1.5,-1,-0.5,0],"labelExpr":"datum.value % 1 == 0 ? '' + datum.value : ''","labelPadding":8,"title":"[Fe/H]","titlePadding":3}},"detail":{"field":"lvl","type":"nominal"},"strokeDash":{"condition":{"test":"datum.lvl % 10 == 0","value":[1,0]},"value":[1,2.4]}}},
 {"data":{"name":"labels"},"transform":[{"filter":"datum.p=='21'"}],"mark":{"type":"text","style":"lab","color":"white","stroke":"white","strokeWidth":2.5,"angle":340},"encoding":{"x":{"field":"teff","type":"quantitative","scale":{"domain":[4000,6000],"nice":false},"axis":null},"y":{"field":"feh","type":"quantitative","scale":{"domain":[-3.4,0.1],"nice":false},"axis":null},"text":{"field":"lvl"}}},
 {"data":{"name":"labels"},"transform":[{"filter":"datum.p=='21'"}],"mark":{"type":"text","style":"lab","color":"black","angle":340},"encoding":{"x":{"field":"teff","type":"quantitative","scale":{"domain":[4000,6000],"nice":false},"axis":null},"y":{"field":"feh","type":"quantitative","scale":{"domain":[-3.4,0.1],"nice":false},"axis":null},"text":{"field":"lvl"}}},
 {"data":{"values":[{}]},"mark":{"type":"text","style":"logg","color":"#333","text":"logg=2.0"},"encoding":{"x":{"datum":4110,"type":"quantitative","scale":{"domain":[4000,6000],"nice":false},"axis":{"orient":"top","values":[4250,4500,4750,5000,5250,5500,5750],"labels":false,"title":null}},"y":{"datum":-3.12,"type":"quantitative","scale":{"domain":[-3.4,0.1],"nice":false},"axis":{"orient":"right","values":[-3,-2.5,-2,-1.5,-1,-0.5,0],"labels":false,"title":null}}}}
]},
{"width":137,"height":84.5,"resolve":{"axis":{"x":"independent","y":"independent"}},"layer":[
 {"data":{"name":"lines"},"transform":[{"filter":"datum.p=='22'"}],"mark":{"type":"line","clip":true},"encoding":{"x":{"field":"teff","type":"quantitative","scale":{"domain":[4000,6000],"nice":false},"axis":{"orient":"bottom","values":[4250,4500,4750,5000,5250,5500,5750],"labels":false,"title":null}},"y":{"field":"feh","type":"quantitative","scale":{"domain":[-3.4,0.1],"nice":false},"axis":{"orient":"left","values":[-3,-2.5,-2,-1.5,-1,-0.5,0],"labels":false,"title":null}},"detail":{"field":"lvl","type":"nominal"},"strokeDash":{"condition":{"test":"datum.lvl % 10 == 0","value":[1,0]},"value":[1,2.4]}}},
 {"data":{"name":"labels"},"transform":[{"filter":"datum.p=='22'"}],"mark":{"type":"text","style":"lab","color":"white","stroke":"white","strokeWidth":2.5,"angle":345},"encoding":{"x":{"field":"teff","type":"quantitative","scale":{"domain":[4000,6000],"nice":false},"axis":null},"y":{"field":"feh","type":"quantitative","scale":{"domain":[-3.4,0.1],"nice":false},"axis":null},"text":{"field":"lvl"}}},
 {"data":{"name":"labels"},"transform":[{"filter":"datum.p=='22'"}],"mark":{"type":"text","style":"lab","color":"black","angle":345},"encoding":{"x":{"field":"teff","type":"quantitative","scale":{"domain":[4000,6000],"nice":false},"axis":null},"y":{"field":"feh","type":"quantitative","scale":{"domain":[-3.4,0.1],"nice":false},"axis":null},"text":{"field":"lvl"}}},
 {"data":{"values":[{}]},"mark":{"type":"text","style":"logg","color":"#333","text":"logg=2.0"},"encoding":{"x":{"datum":4110,"type":"quantitative","scale":{"domain":[4000,6000],"nice":false},"axis":{"orient":"top","values":[4250,4500,4750,5000,5250,5500,5750],"labels":false,"title":null}},"y":{"datum":-3.12,"type":"quantitative","scale":{"domain":[-3.4,0.1],"nice":false},"axis":{"orient":"right","values":[-3,-2.5,-2,-1.5,-1,-0.5,0],"labels":false,"title":null}}}}
]},
{"width":137,"height":84.5,"resolve":{"axis":{"x":"independent","y":"independent"}},"layer":[
 {"data":{"name":"lines"},"transform":[{"filter":"datum.p=='23'"}],"mark":{"type":"line","clip":true},"encoding":{"x":{"field":"teff","type":"quantitative","scale":{"domain":[4000,6000],"nice":false},"axis":{"orient":"bottom","values":[4250,4500,4750,5000,5250,5500,5750],"labels":false,"title":null}},"y":{"field":"feh","type":"quantitative","scale":{"domain":[-3.4,0.1],"nice":false},"axis":{"orient":"left","values":[-3,-2.5,-2,-1.5,-1,-0.5,0],"labels":false,"title":null}},"detail":{"field":"lvl","type":"nominal"},"strokeDash":{"condition":{"test":"datum.lvl % 10 == 0","value":[1,0]},"value":[1,2.4]}}},
 {"data":{"values":[{}]},"mark":{"type":"text","style":"logg","color":"#333","text":"logg=2.0"},"encoding":{"x":{"datum":4110,"type":"quantitative","scale":{"domain":[4000,6000],"nice":false},"axis":{"orient":"top","values":[4250,4500,4750,5000,5250,5500,5750],"labels":false,"title":null}},"y":{"datum":-3.12,"type":"quantitative","scale":{"domain":[-3.4,0.1],"nice":false},"axis":{"orient":"right","values":[-3,-2.5,-2,-1.5,-1,-0.5,0],"labels":false,"title":null}}}}
]},
{"width":137,"height":84.5,"resolve":{"axis":{"x":"independent","y":"independent"}},"layer":[
 {"data":{"name":"lines"},"transform":[{"filter":"datum.p=='24'"}],"mark":{"type":"line","clip":true},"encoding":{"x":{"field":"teff","type":"quantitative","scale":{"domain":[4000,6000],"nice":false},"axis":{"orient":"bottom","values":[4250,4500,4750,5000,5250,5500,5750],"labels":false,"title":null}},"y":{"field":"feh","type":"quantitative","scale":{"domain":[-3.4,0.1],"nice":false},"axis":{"orient":"left","values":[-3,-2.5,-2,-1.5,-1,-0.5,0],"labels":false,"title":null}},"detail":{"field":"lvl","type":"nominal"},"strokeDash":{"condition":{"test":"datum.lvl % 10 == 0","value":[1,0]},"value":[1,2.4]}}},
 {"data":{"values":[{}]},"mark":{"type":"text","style":"logg","color":"#333","text":"logg=2.0"},"encoding":{"x":{"datum":4110,"type":"quantitative","scale":{"domain":[4000,6000],"nice":false},"axis":{"orient":"top","values":[4250,4500,4750,5000,5250,5500,5750],"labels":false,"title":null}},"y":{"datum":-3.12,"type":"quantitative","scale":{"domain":[-3.4,0.1],"nice":false},"axis":{"orient":"right","values":[-3,-2.5,-2,-1.5,-1,-0.5,0],"labels":false,"title":null}}}}
]},

{"width":137,"height":84.5,"resolve":{"axis":{"x":"independent","y":"independent"}},"layer":[
 {"data":{"name":"lines"},"transform":[{"filter":"datum.p=='31'"}],"mark":{"type":"line","clip":true},"encoding":{"x":{"field":"teff","type":"quantitative","scale":{"domain":[4000,6000],"nice":false},"axis":{"orient":"bottom","values":[4250,4500,4750,5000,5250,5500,5750],"labels":false,"title":null}},"y":{"field":"feh","type":"quantitative","scale":{"domain":[-3.4,0.1],"nice":false},"axis":{"orient":"left","values":[-3,-2.5,-2,-1.5,-1,-0.5,0],"labelExpr":"datum.value % 1 == 0 ? '' + datum.value : ''","labelPadding":8,"title":"[Fe/H]","titlePadding":3}},"detail":{"field":"lvl","type":"nominal"},"strokeDash":{"condition":{"test":"datum.lvl % 10 == 0","value":[1,0]},"value":[1,2.4]}}},
 {"data":{"name":"labels"},"transform":[{"filter":"datum.p=='31'"}],"mark":{"type":"text","style":"lab","color":"white","stroke":"white","strokeWidth":2.5,"angle":340},"encoding":{"x":{"field":"teff","type":"quantitative","scale":{"domain":[4000,6000],"nice":false},"axis":null},"y":{"field":"feh","type":"quantitative","scale":{"domain":[-3.4,0.1],"nice":false},"axis":null},"text":{"field":"lvl"}}},
 {"data":{"name":"labels"},"transform":[{"filter":"datum.p=='31'"}],"mark":{"type":"text","style":"lab","color":"black","angle":340},"encoding":{"x":{"field":"teff","type":"quantitative","scale":{"domain":[4000,6000],"nice":false},"axis":null},"y":{"field":"feh","type":"quantitative","scale":{"domain":[-3.4,0.1],"nice":false},"axis":null},"text":{"field":"lvl"}}},
 {"data":{"values":[{}]},"mark":{"type":"text","style":"logg","color":"#333","text":"logg=3.0"},"encoding":{"x":{"datum":4110,"type":"quantitative","scale":{"domain":[4000,6000],"nice":false},"axis":{"orient":"top","values":[4250,4500,4750,5000,5250,5500,5750],"labels":false,"title":null}},"y":{"datum":-3.12,"type":"quantitative","scale":{"domain":[-3.4,0.1],"nice":false},"axis":{"orient":"right","values":[-3,-2.5,-2,-1.5,-1,-0.5,0],"labels":false,"title":null}}}}
]},
{"width":137,"height":84.5,"resolve":{"axis":{"x":"independent","y":"independent"}},"layer":[
 {"data":{"name":"lines"},"transform":[{"filter":"datum.p=='32'"}],"mark":{"type":"line","clip":true},"encoding":{"x":{"field":"teff","type":"quantitative","scale":{"domain":[4000,6000],"nice":false},"axis":{"orient":"bottom","values":[4250,4500,4750,5000,5250,5500,5750],"labels":false,"title":null}},"y":{"field":"feh","type":"quantitative","scale":{"domain":[-3.4,0.1],"nice":false},"axis":{"orient":"left","values":[-3,-2.5,-2,-1.5,-1,-0.5,0],"labels":false,"title":null}},"detail":{"field":"lvl","type":"nominal"},"strokeDash":{"condition":{"test":"datum.lvl % 10 == 0","value":[1,0]},"value":[1,2.4]}}},
 {"data":{"name":"labels"},"transform":[{"filter":"datum.p=='32'"}],"mark":{"type":"text","style":"lab","color":"white","stroke":"white","strokeWidth":2.5,"angle":345},"encoding":{"x":{"field":"teff","type":"quantitative","scale":{"domain":[4000,6000],"nice":false},"axis":null},"y":{"field":"feh","type":"quantitative","scale":{"domain":[-3.4,0.1],"nice":false},"axis":null},"text":{"field":"lvl"}}},
 {"data":{"name":"labels"},"transform":[{"filter":"datum.p=='32'"}],"mark":{"type":"text","style":"lab","color":"black","angle":345},"encoding":{"x":{"field":"teff","type":"quantitative","scale":{"domain":[4000,6000],"nice":false},"axis":null},"y":{"field":"feh","type":"quantitative","scale":{"domain":[-3.4,0.1],"nice":false},"axis":null},"text":{"field":"lvl"}}},
 {"data":{"values":[{}]},"mark":{"type":"text","style":"logg","color":"#333","text":"logg=3.0"},"encoding":{"x":{"datum":4110,"type":"quantitative","scale":{"domain":[4000,6000],"nice":false},"axis":{"orient":"top","values":[4250,4500,4750,5000,5250,5500,5750],"labels":false,"title":null}},"y":{"datum":-3.12,"type":"quantitative","scale":{"domain":[-3.4,0.1],"nice":false},"axis":{"orient":"right","values":[-3,-2.5,-2,-1.5,-1,-0.5,0],"labels":false,"title":null}}}}
]},
{"width":137,"height":84.5,"resolve":{"axis":{"x":"independent","y":"independent"}},"layer":[
 {"data":{"name":"lines"},"transform":[{"filter":"datum.p=='33'"}],"mark":{"type":"line","clip":true},"encoding":{"x":{"field":"teff","type":"quantitative","scale":{"domain":[4000,6000],"nice":false},"axis":{"orient":"bottom","values":[4250,4500,4750,5000,5250,5500,5750],"labels":false,"title":null}},"y":{"field":"feh","type":"quantitative","scale":{"domain":[-3.4,0.1],"nice":false},"axis":{"orient":"left","values":[-3,-2.5,-2,-1.5,-1,-0.5,0],"labels":false,"title":null}},"detail":{"field":"lvl","type":"nominal"},"strokeDash":{"condition":{"test":"datum.lvl % 10 == 0","value":[1,0]},"value":[1,2.4]}}},
 {"data":{"name":"labels"},"transform":[{"filter":"datum.p=='33'"}],"mark":{"type":"text","style":"lab","color":"white","stroke":"white","strokeWidth":2.5,"angle":300},"encoding":{"x":{"field":"teff","type":"quantitative","scale":{"domain":[4000,6000],"nice":false},"axis":null},"y":{"field":"feh","type":"quantitative","scale":{"domain":[-3.4,0.1],"nice":false},"axis":null},"text":{"field":"lvl"}}},
 {"data":{"name":"labels"},"transform":[{"filter":"datum.p=='33'"}],"mark":{"type":"text","style":"lab","color":"black","angle":300},"encoding":{"x":{"field":"teff","type":"quantitative","scale":{"domain":[4000,6000],"nice":false},"axis":null},"y":{"field":"feh","type":"quantitative","scale":{"domain":[-3.4,0.1],"nice":false},"axis":null},"text":{"field":"lvl"}}},
 {"data":{"values":[{}]},"mark":{"type":"text","style":"logg","color":"#333","text":"logg=3.0"},"encoding":{"x":{"datum":4110,"type":"quantitative","scale":{"domain":[4000,6000],"nice":false},"axis":{"orient":"top","values":[4250,4500,4750,5000,5250,5500,5750],"labels":false,"title":null}},"y":{"datum":-3.12,"type":"quantitative","scale":{"domain":[-3.4,0.1],"nice":false},"axis":{"orient":"right","values":[-3,-2.5,-2,-1.5,-1,-0.5,0],"labels":false,"title":null}}}}
]},
{"width":137,"height":84.5,"resolve":{"axis":{"x":"independent","y":"independent"}},"layer":[
 {"data":{"name":"lines"},"transform":[{"filter":"datum.p=='34'"}],"mark":{"type":"line","clip":true},"encoding":{"x":{"field":"teff","type":"quantitative","scale":{"domain":[4000,6000],"nice":false},"axis":{"orient":"bottom","values":[4250,4500,4750,5000,5250,5500,5750],"labels":false,"title":null}},"y":{"field":"feh","type":"quantitative","scale":{"domain":[-3.4,0.1],"nice":false},"axis":{"orient":"left","values":[-3,-2.5,-2,-1.5,-1,-0.5,0],"labels":false,"title":null}},"detail":{"field":"lvl","type":"nominal"},"strokeDash":{"condition":{"test":"datum.lvl % 10 == 0","value":[1,0]},"value":[1,2.4]}}},
 {"data":{"name":"labels"},"transform":[{"filter":"datum.p=='34'"}],"mark":{"type":"text","style":"lab","color":"white","stroke":"white","strokeWidth":2.5,"angle":300},"encoding":{"x":{"field":"teff","type":"quantitative","scale":{"domain":[4000,6000],"nice":false},"axis":null},"y":{"field":"feh","type":"quantitative","scale":{"domain":[-3.4,0.1],"nice":false},"axis":null},"text":{"field":"lvl"}}},
 {"data":{"name":"labels"},"transform":[{"filter":"datum.p=='34'"}],"mark":{"type":"text","style":"lab","color":"black","angle":300},"encoding":{"x":{"field":"teff","type":"quantitative","scale":{"domain":[4000,6000],"nice":false},"axis":null},"y":{"field":"feh","type":"quantitative","scale":{"domain":[-3.4,0.1],"nice":false},"axis":null},"text":{"field":"lvl"}}},
 {"data":{"values":[{}]},"mark":{"type":"text","style":"logg","color":"#333","text":"logg=3.0"},"encoding":{"x":{"datum":4110,"type":"quantitative","scale":{"domain":[4000,6000],"nice":false},"axis":{"orient":"top","values":[4250,4500,4750,5000,5250,5500,5750],"labels":false,"title":null}},"y":{"datum":-3.12,"type":"quantitative","scale":{"domain":[-3.4,0.1],"nice":false},"axis":{"orient":"right","values":[-3,-2.5,-2,-1.5,-1,-0.5,0],"labels":false,"title":null}}}}
]},

{"width":137,"height":84.5,"resolve":{"axis":{"x":"independent","y":"independent"}},"layer":[
 {"data":{"name":"lines"},"transform":[{"filter":"datum.p=='41'"}],"mark":{"type":"line","clip":true},"encoding":{"x":{"field":"teff","type":"quantitative","scale":{"domain":[4000,6000],"nice":false},"axis":{"orient":"bottom","values":[4250,4500,4750,5000,5250,5500,5750],"labelExpr":"datum.value % 500 == 0 ? '' + datum.value : ''","labelPadding":4,"title":null}},"y":{"field":"feh","type":"quantitative","scale":{"domain":[-3.4,0.1],"nice":false},"axis":{"orient":"left","values":[-3,-2.5,-2,-1.5,-1,-0.5,0],"labelExpr":"datum.value % 1 == 0 ? '' + datum.value : ''","labelPadding":8,"title":"[Fe/H]","titlePadding":3}},"detail":{"field":"lvl","type":"nominal"},"strokeDash":{"condition":{"test":"datum.lvl % 10 == 0","value":[1,0]},"value":[1,2.4]}}},
 {"data":{"name":"labels"},"transform":[{"filter":"datum.p=='41'"}],"mark":{"type":"text","style":"lab","color":"white","stroke":"white","strokeWidth":2.5,"angle":340},"encoding":{"x":{"field":"teff","type":"quantitative","scale":{"domain":[4000,6000],"nice":false},"axis":null},"y":{"field":"feh","type":"quantitative","scale":{"domain":[-3.4,0.1],"nice":false},"axis":null},"text":{"field":"lvl"}}},
 {"data":{"name":"labels"},"transform":[{"filter":"datum.p=='41'"}],"mark":{"type":"text","style":"lab","color":"black","angle":340},"encoding":{"x":{"field":"teff","type":"quantitative","scale":{"domain":[4000,6000],"nice":false},"axis":null},"y":{"field":"feh","type":"quantitative","scale":{"domain":[-3.4,0.1],"nice":false},"axis":null},"text":{"field":"lvl"}}},
 {"data":{"values":[{}]},"mark":{"type":"text","style":"logg","color":"#333","text":"logg=4.0"},"encoding":{"x":{"datum":4110,"type":"quantitative","scale":{"domain":[4000,6000],"nice":false},"axis":{"orient":"top","values":[4250,4500,4750,5000,5250,5500,5750],"labels":false,"title":null}},"y":{"datum":-3.12,"type":"quantitative","scale":{"domain":[-3.4,0.1],"nice":false},"axis":{"orient":"right","values":[-3,-2.5,-2,-1.5,-1,-0.5,0],"labels":false,"title":null}}}},
 {"data":{"values":[{}]},"mark":{"type":"text","style":"xt","align":"right","text":"T"},"encoding":{"x":{"datum":4774,"type":"quantitative","scale":{"domain":[4000,6000],"nice":false},"axis":null},"y":{"datum":-4.25,"type":"quantitative","scale":{"domain":[-3.4,0.1],"nice":false},"axis":null}}},
 {"data":{"values":[{}]},"mark":{"type":"text","style":"xs","align":"left","text":"eff"},"encoding":{"x":{"datum":4774,"type":"quantitative","scale":{"domain":[4000,6000],"nice":false},"axis":null},"y":{"datum":-4.31,"type":"quantitative","scale":{"domain":[-3.4,0.1],"nice":false},"axis":null}}},
 {"data":{"values":[{}]},"mark":{"type":"text","style":"xt","align":"left","text":"(K)"},"encoding":{"x":{"datum":4993,"type":"quantitative","scale":{"domain":[4000,6000],"nice":false},"axis":null},"y":{"datum":-4.25,"type":"quantitative","scale":{"domain":[-3.4,0.1],"nice":false},"axis":null}}}
]},
{"width":137,"height":84.5,"resolve":{"axis":{"x":"independent","y":"independent"}},"layer":[
 {"data":{"name":"lines"},"transform":[{"filter":"datum.p=='42'"}],"mark":{"type":"line","clip":true},"encoding":{"x":{"field":"teff","type":"quantitative","scale":{"domain":[4000,6000],"nice":false},"axis":{"orient":"bottom","values":[4250,4500,4750,5000,5250,5500,5750],"labelExpr":"datum.value % 500 == 0 ? '' + datum.value : ''","labelPadding":4,"title":null}},"y":{"field":"feh","type":"quantitative","scale":{"domain":[-3.4,0.1],"nice":false},"axis":{"orient":"left","values":[-3,-2.5,-2,-1.5,-1,-0.5,0],"labels":false,"title":null}},"detail":{"field":"lvl","type":"nominal"},"strokeDash":{"condition":{"test":"datum.lvl % 10 == 0","value":[1,0]},"value":[1,2.4]}}},
 {"data":{"values":[{}]},"mark":{"type":"text","style":"logg","color":"#333","text":"logg=4.0"},"encoding":{"x":{"datum":4110,"type":"quantitative","scale":{"domain":[4000,6000],"nice":false},"axis":{"orient":"top","values":[4250,4500,4750,5000,5250,5500,5750],"labels":false,"title":null}},"y":{"datum":-3.12,"type":"quantitative","scale":{"domain":[-3.4,0.1],"nice":false},"axis":{"orient":"right","values":[-3,-2.5,-2,-1.5,-1,-0.5,0],"labels":false,"title":null}}}},
 {"data":{"values":[{}]},"mark":{"type":"text","style":"xt","align":"right","text":"T"},"encoding":{"x":{"datum":4774,"type":"quantitative","scale":{"domain":[4000,6000],"nice":false},"axis":null},"y":{"datum":-4.25,"type":"quantitative","scale":{"domain":[-3.4,0.1],"nice":false},"axis":null}}},
 {"data":{"values":[{}]},"mark":{"type":"text","style":"xs","align":"left","text":"eff"},"encoding":{"x":{"datum":4774,"type":"quantitative","scale":{"domain":[4000,6000],"nice":false},"axis":null},"y":{"datum":-4.31,"type":"quantitative","scale":{"domain":[-3.4,0.1],"nice":false},"axis":null}}},
 {"data":{"values":[{}]},"mark":{"type":"text","style":"xt","align":"left","text":"(K)"},"encoding":{"x":{"datum":4993,"type":"quantitative","scale":{"domain":[4000,6000],"nice":false},"axis":null},"y":{"datum":-4.25,"type":"quantitative","scale":{"domain":[-3.4,0.1],"nice":false},"axis":null}}}
]},
{"width":137,"height":84.5,"resolve":{"axis":{"x":"independent","y":"independent"}},"layer":[
 {"data":{"name":"lines"},"transform":[{"filter":"datum.p=='43'"}],"mark":{"type":"line","clip":true},"encoding":{"x":{"field":"teff","type":"quantitative","scale":{"domain":[4000,6000],"nice":false},"axis":{"orient":"bottom","values":[4250,4500,4750,5000,5250,5500,5750],"labelExpr":"datum.value % 500 == 0 ? '' + datum.value : ''","labelPadding":4,"title":null}},"y":{"field":"feh","type":"quantitative","scale":{"domain":[-3.4,0.1],"nice":false},"axis":{"orient":"left","values":[-3,-2.5,-2,-1.5,-1,-0.5,0],"labels":false,"title":null}},"detail":{"field":"lvl","type":"nominal"},"strokeDash":{"condition":{"test":"datum.lvl % 10 == 0","value":[1,0]},"value":[1,2.4]}}},
 {"data":{"name":"labels"},"transform":[{"filter":"datum.p=='43'"}],"mark":{"type":"text","style":"lab","color":"white","stroke":"white","strokeWidth":2.5,"angle":300},"encoding":{"x":{"field":"teff","type":"quantitative","scale":{"domain":[4000,6000],"nice":false},"axis":null},"y":{"field":"feh","type":"quantitative","scale":{"domain":[-3.4,0.1],"nice":false},"axis":null},"text":{"field":"lvl"}}},
 {"data":{"name":"labels"},"transform":[{"filter":"datum.p=='43'"}],"mark":{"type":"text","style":"lab","color":"black","angle":300},"encoding":{"x":{"field":"teff","type":"quantitative","scale":{"domain":[4000,6000],"nice":false},"axis":null},"y":{"field":"feh","type":"quantitative","scale":{"domain":[-3.4,0.1],"nice":false},"axis":null},"text":{"field":"lvl"}}},
 {"data":{"values":[{}]},"mark":{"type":"text","style":"logg","color":"#333","text":"logg=4.0"},"encoding":{"x":{"datum":4110,"type":"quantitative","scale":{"domain":[4000,6000],"nice":false},"axis":{"orient":"top","values":[4250,4500,4750,5000,5250,5500,5750],"labels":false,"title":null}},"y":{"datum":-3.12,"type":"quantitative","scale":{"domain":[-3.4,0.1],"nice":false},"axis":{"orient":"right","values":[-3,-2.5,-2,-1.5,-1,-0.5,0],"labels":false,"title":null}}}},
 {"data":{"values":[{}]},"mark":{"type":"text","style":"xt","align":"right","text":"T"},"encoding":{"x":{"datum":4774,"type":"quantitative","scale":{"domain":[4000,6000],"nice":false},"axis":null},"y":{"datum":-4.25,"type":"quantitative","scale":{"domain":[-3.4,0.1],"nice":false},"axis":null}}},
 {"data":{"values":[{}]},"mark":{"type":"text","style":"xs","align":"left","text":"eff"},"encoding":{"x":{"datum":4774,"type":"quantitative","scale":{"domain":[4000,6000],"nice":false},"axis":null},"y":{"datum":-4.31,"type":"quantitative","scale":{"domain":[-3.4,0.1],"nice":false},"axis":null}}},
 {"data":{"values":[{}]},"mark":{"type":"text","style":"xt","align":"left","text":"(K)"},"encoding":{"x":{"datum":4993,"type":"quantitative","scale":{"domain":[4000,6000],"nice":false},"axis":null},"y":{"datum":-4.25,"type":"quantitative","scale":{"domain":[-3.4,0.1],"nice":false},"axis":null}}}
]},
{"width":137,"height":84.5,"resolve":{"axis":{"x":"independent","y":"independent"}},"layer":[
 {"data":{"name":"lines"},"transform":[{"filter":"datum.p=='44'"}],"mark":{"type":"line","clip":true},"encoding":{"x":{"field":"teff","type":"quantitative","scale":{"domain":[4000,6000],"nice":false},"axis":{"orient":"bottom","values":[4250,4500,4750,5000,5250,5500,5750],"labelExpr":"datum.value % 500 == 0 ? '' + datum.value : ''","labelPadding":4,"title":null}},"y":{"field":"feh","type":"quantitative","scale":{"domain":[-3.4,0.1],"nice":false},"axis":{"orient":"left","values":[-3,-2.5,-2,-1.5,-1,-0.5,0],"labels":false,"title":null}},"detail":{"field":"lvl","type":"nominal"},"strokeDash":{"condition":{"test":"datum.lvl % 10 == 0","value":[1,0]},"value":[1,2.4]}}},
 {"data":{"name":"labels"},"transform":[{"filter":"datum.p=='44'"}],"mark":{"type":"text","style":"lab","color":"white","stroke":"white","strokeWidth":2.5,"angle":300},"encoding":{"x":{"field":"teff","type":"quantitative","scale":{"domain":[4000,6000],"nice":false},"axis":null},"y":{"field":"feh","type":"quantitative","scale":{"domain":[-3.4,0.1],"nice":false},"axis":null},"text":{"field":"lvl"}}},
 {"data":{"name":"labels"},"transform":[{"filter":"datum.p=='44'"}],"mark":{"type":"text","style":"lab","color":"black","angle":300},"encoding":{"x":{"field":"teff","type":"quantitative","scale":{"domain":[4000,6000],"nice":false},"axis":null},"y":{"field":"feh","type":"quantitative","scale":{"domain":[-3.4,0.1],"nice":false},"axis":null},"text":{"field":"lvl"}}},
 {"data":{"values":[{}]},"mark":{"type":"text","style":"logg","color":"#333","text":"logg=4.0"},"encoding":{"x":{"datum":4110,"type":"quantitative","scale":{"domain":[4000,6000],"nice":false},"axis":{"orient":"top","values":[4250,4500,4750,5000,5250,5500,5750],"labels":false,"title":null}},"y":{"datum":-3.12,"type":"quantitative","scale":{"domain":[-3.4,0.1],"nice":false},"axis":{"orient":"right","values":[-3,-2.5,-2,-1.5,-1,-0.5,0],"labels":false,"title":null}}}},
 {"data":{"values":[{}]},"mark":{"type":"text","style":"xt","align":"right","text":"T"},"encoding":{"x":{"datum":4774,"type":"quantitative","scale":{"domain":[4000,6000],"nice":false},"axis":null},"y":{"datum":-4.25,"type":"quantitative","scale":{"domain":[-3.4,0.1],"nice":false},"axis":null}}},
 {"data":{"values":[{}]},"mark":{"type":"text","style":"xs","align":"left","text":"eff"},"encoding":{"x":{"datum":4774,"type":"quantitative","scale":{"domain":[4000,6000],"nice":false},"axis":null},"y":{"datum":-4.31,"type":"quantitative","scale":{"domain":[-3.4,0.1],"nice":false},"axis":null}}},
 {"data":{"values":[{}]},"mark":{"type":"text","style":"xt","align":"left","text":"(K)"},"encoding":{"x":{"datum":4993,"type":"quantitative","scale":{"domain":[4000,6000],"nice":false},"axis":null},"y":{"datum":-4.25,"type":"quantitative","scale":{"domain":[-3.4,0.1],"nice":false},"axis":null}}}
]}
],
"config":{
 "view":{"stroke":"black","strokeWidth":1.4},
 "mark":{"color":"black"},
 "line":{"strokeWidth":0.9,"interpolate":"monotone"},
 "axis":{"domain":false,"grid":false,"ticks":true,"tickColor":"black","tickWidth":1,"tickSize":-4,"labelFont":"Liberation Sans","labelFontWeight":"bold","labelFontSize":10,"labelColor":"black","titleFont":"Liberation Sans","titleFontWeight":"bold","titleFontSize":10,"titleColor":"black"},
 "style":{
  "lab":{"font":"Liberation Sans","fontSize":7,"fontWeight":"bold"},
  "logg":{"font":"Liberation Serif","fontSize":10,"align":"left","baseline":"alphabetic"},
  "big":{"font":"Liberation Serif","fontSize":10.5,"fontWeight":"bold","baseline":"alphabetic"},
  "sub":{"font":"Liberation Sans","fontSize":7.5,"fontWeight":"bold","baseline":"alphabetic"},
  "xt":{"font":"Liberation Sans","fontSize":11,"fontWeight":"bold","baseline":"alphabetic"},
  "xs":{"font":"Liberation Sans","fontSize":8,"fontWeight":"bold","baseline":"alphabetic"}
 }
}
}
